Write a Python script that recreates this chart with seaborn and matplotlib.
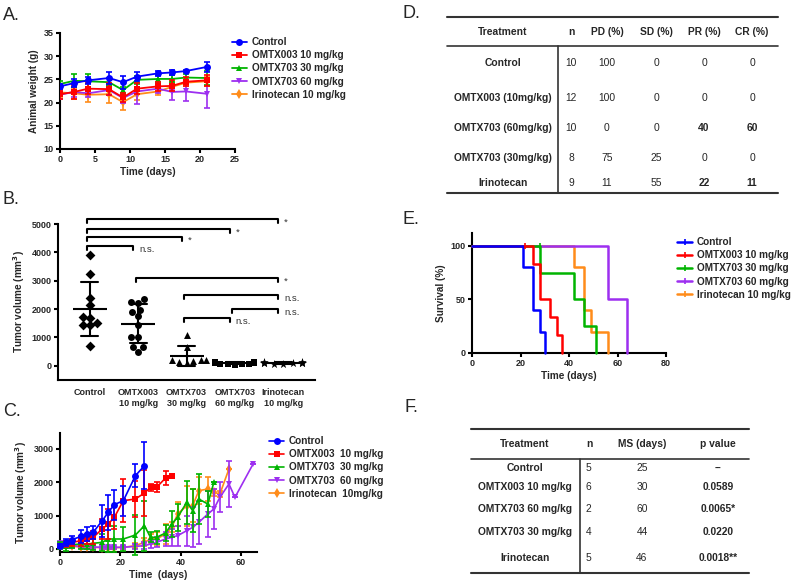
import numpy as np
import pandas as pd
import matplotlib
matplotlib.use('Agg')
import matplotlib.pyplot as plt
from matplotlib.lines import Line2D
import seaborn as sns

sns.set_style('ticks')
plt.rcParams['font.family'] = ['Liberation Sans', 'DejaVu Sans']
plt.rcParams['font.weight'] = 'bold'
plt.rcParams['axes.labelweight'] = 'bold'
plt.rcParams['mathtext.default'] = 'bf'

# ---------------- data ----------------
groups = ['Control', 'OMTX003 10 mg/kg', 'OMTX703 30 mg/kg', 'OMTX703 60 mg/kg', 'Irinotecan 10 mg/kg']
colors = ['#0000ff', '#ff0000', '#00b400', '#9d2ff0', '#ff8c1a']
markers = ['o', 's', '^', 'v', 'd']

# A: body weight
days_a = [0, 2, 4, 7, 9, 11, 14, 16, 18, 21]
weight_ctrl = [23.5, 24.2, 24.8, 25.3, 24.4, 25.6, 26.3, 26.5, 26.8, 27.7]
weight_003 = [21.8, 22.3, 23.0, 22.9, 21.1, 23.0, 23.5, 23.6, 24.5, 24.8]
weight_703_30 = [24.0, 24.7, 24.6, 24.4, 22.7, 24.9, 25.1, 25.1, 25.4, 25.3]
weight_703_60 = [21.7, 22.3, 22.0, 22.7, 21.0, 22.4, 23.0, 22.3, 22.4, 21.9]
weight_iri = [22.2, 22.0, 21.7, 21.8, 20.1, 21.8, 22.4, 23.4, 24.3, 24.6]
werr_ctrl = [0.6, 0.8, 0.8, 1.3, 1.4, 0.9, 0.5, 0.6, 0.2, 1.1]
werr_003 = [1.0, 1.5, 1.2, 1.3, 0.9, 1.2, 1.0, 1.2, 1.0, 1.2]
werr_703_30 = [0.6, 1.4, 1.6, 0.9, 0.6, 0.9, 0.8, 0.8, 0.8, 1.5]
werr_703_60 = [1.0, 1.0, 0.8, 1.0, 1.0, 2.8, 1.0, 1.8, 2.0, 3.0]
werr_iri = [1.2, 1.2, 1.5, 1.8, 1.6, 1.2, 0.8, 1.0, 0.8, 1.0]

# B: final tumour volume per animal
b_groups = ['Control', 'OMTX003\n10 mg/kg', 'OMTX703\n30 mg/kg', 'OMTX703\n60 mg/kg', 'Irinotecan\n10 mg/kg']
b_markers = ['D', 'o', '^', 's', '*']
vol_ctrl = [3920, 3240, 2400, 2150, 1730, 1680, 1500, 1430, 1450, 700]
vol_003 = [2370, 2220, 2250, 1980, 1740, 1880, 1430, 1030, 1030, 650, 480, 650]
vol_703_30 = [1100, 650, 200, 180, 150, 100, 220, 200]
vol_703_60 = [80, 100, 60, 120, 50, 90, 150, 70, 40, 110]
vol_iri = [120, 90, 110, 80, 100, 130, 70, 95, 105]
brk_left = [0, 0, 0, 0, 1, 2, 3, 2]
brk_right = [4, 3, 2, 1, 4, 4, 4, 3]
brk_y = [5180, 4820, 4540, 4230, 3100, 2500, 2000, 1700]
brk_text = ['*', '*', '*', 'n.s.', '*', 'n.s.', 'n.s.', 'n.s.']

# C: tumour growth
c_labels = ['Control', 'OMTX003  10 mg/kg', 'OMTX703  30 mg/kg', 'OMTX703  60 mg/kg', 'Irinotecan  10mg/kg']
days_ctrl = [0, 2, 4, 7, 9, 11, 14, 16, 18, 21, 25, 28]
tv_ctrl = [100, 200, 280, 380, 450, 500, 850, 1100, 1330, 1450, 2200, 2500]
te_ctrl = [60, 100, 120, 200, 220, 200, 480, 520, 450, 450, 350, 700]
days_003 = [0, 2, 4, 7, 9, 11, 14, 16, 18, 21, 25, 28, 30, 32, 35, 37]
tv_003 = [100, 150, 200, 250, 300, 350, 600, 750, 950, 1450, 1500, 1680, 1850, 1850, 2130, 2180]
te_003 = [50, 100, 100, 150, 150, 200, 300, 450, 350, 650, 550, 700, 100, 150, 200, 50]
days_703_30 = [0, 2, 4, 7, 9, 11, 14, 16, 18, 21, 25, 28, 30, 32, 35, 37, 39, 42, 44, 46, 49, 51]
tv_703_30 = [100, 100, 130, 150, 150, 170, 200, 300, 300, 300, 420, 700, 350, 350, 480, 750, 950,
             1400, 1150, 1500, 1350, 2000]
te_703_30 = [100, 150, 100, 150, 150, 200, 250, 400, 400, 350, 600, 750, 150, 200, 250, 400, 400,
             650, 650, 750, 400, 0]
days_703_60 = [0, 2, 4, 7, 9, 11, 14, 16, 18, 21, 25, 28, 30, 32, 35, 37, 39, 42, 44, 46, 49, 51,
               53, 56, 58, 64]
tv_703_60 = [150, 130, 100, 80, 70, 60, 50, 50, 50, 50, 80, 100, 150, 200, 300, 350, 400, 550, 650,
             800, 1050, 1200, 1550, 1950, 1550, 2550]
te_703_60 = [100, 100, 80, 60, 60, 50, 40, 40, 40, 40, 80, 100, 120, 150, 200, 250, 300, 450, 600,
             650, 700, 600, 450, 700, 0, 0]
days_iri = [0, 2, 4, 7, 9, 11, 14, 16, 18, 21, 25, 28, 30, 32, 35, 37, 39, 42, 44, 46, 49, 51, 53, 56]
tv_iri = [120, 100, 80, 60, 50, 50, 40, 40, 40, 50, 100, 200, 300, 300, 450, 650, 1050, 1300, 1300,
          1750, 1800, 1700, 1650, 2400]
te_iri = [60, 50, 40, 30, 30, 30, 30, 30, 30, 40, 80, 120, 150, 200, 300, 150, 350, 600, 500, 400,
          350, 100, 100, 0]

# E: Kaplan-Meier steps (time, % surviving)
km_t_ctrl = [0, 21, 25, 28, 30]
km_s_ctrl = [100, 80, 40, 20, 0]
km_t_003 = [0, 25, 28, 32, 35, 37]
km_s_003 = [100, 83.3, 50, 33.3, 16.7, 0]
km_t_703_30 = [0, 28, 42, 46, 51]
km_s_703_30 = [100, 75, 50, 25, 0]
km_t_703_60 = [0, 56, 64]
km_s_703_60 = [100, 50, 0]
km_t_iri = [0, 42, 46, 49, 56]
km_s_iri = [100, 80, 40, 20, 0]
censor_t = [22, 28]
censor_group = [1, 2]

# D / F tables
d_header = ['Treatment', 'n', 'PD (%)', 'SD (%)', 'PR (%)', 'CR (%)']
d_treat = ['Control', 'OMTX003 (10mg/kg)', 'OMTX703 (60mg/kg)', 'OMTX703 (30mg/kg)', 'Irinotecan']
d_n = [10, 12, 10, 8, 9]
d_pd = [100, 100, 0, 75, 11]
d_sd = [0, 0, 0, 25, 55]
d_pr = [0, 0, 40, 0, 22]
d_cr = [0, 0, 60, 0, 11]
f_header = ['Treatment', 'n', 'MS (days)', 'p value']
f_treat = ['Control', 'OMTX003 10 mg/kg', 'OMTX703 60 mg/kg', 'OMTX703 30 mg/kg', 'Irinotecan']
f_n = [5, 6, 2, 4, 5]
f_ms = [25, 30, 60, 44, 46]
f_p = ['--', '0.0589', '0.0065*', '0.0220', '0.0018**']

# ---------------- figure ----------------
W, H = 800, 580
fig = plt.figure(figsize=(W / 100, H / 100), dpi=100)


def px_axes(x0, y0, x1, y1):
    return fig.add_axes([x0 / W, 1 - y1 / H, (x1 - x0) / W, (y1 - y0) / H])


def style(ax):
    sns.despine(ax=ax)
    for s in ['left', 'bottom']:
        ax.spines[s].set_linewidth(1.5)
        ax.spines[s].set_color('black')
    ax.tick_params(width=1.5, length=3, labelsize=6.5, color='black', pad=1.5)
    for lab in ax.get_xticklabels() + ax.get_yticklabels():
        lab.set_fontweight('bold')


def put_legend(ax, handles, labels, x, y, **kw):
    ax.legend(handles, labels, loc='upper left', bbox_to_anchor=(x / W, 1 - y / H),
              bbox_transform=fig.transFigure, frameon=False, handlelength=1.5, handletextpad=0.5,
              labelspacing=0.32, borderpad=0, borderaxespad=0, prop={'weight': 'bold', 'size': 7.2},
              **kw)


# ---- A ----
axA = px_axes(60, 33, 235, 149)
a_vals = [weight_ctrl, weight_003, weight_703_30, weight_703_60, weight_iri]
a_errs = [werr_ctrl, werr_003, werr_703_30, werr_703_60, werr_iri]
for i in range(4, -1, -1):
    axA.errorbar(days_a, a_vals[i], yerr=a_errs[i], fmt='none', ecolor=colors[i], elinewidth=1.2,
                 capsize=2, capthick=1.2, zorder=2 + 5 - i)
    sns.lineplot(x=days_a, y=a_vals[i], color=colors[i], marker=markers[i], markersize=5,
                 markeredgewidth=0, linewidth=1.3, label=groups[i], ax=axA, zorder=3 + 5 - i)
h, l = axA.get_legend_handles_labels()
axA.set_xlim(0, 25)
axA.set_ylim(10, 35)
axA.set_xticks([0, 5, 10, 15, 20, 25])
axA.set_yticks([10, 15, 20, 25, 30, 35])
axA.set_xlabel('Time (days)', fontsize=7.2, labelpad=2)
axA.set_ylabel('Animal weight (g)', fontsize=7.2, labelpad=3)
style(axA)
put_legend(axA, h[::-1], l[::-1], 232, 37)

# ---- B ----
axB = px_axes(58, 224, 315, 380)
b_vals = [vol_ctrl, vol_003, vol_703_30, vol_703_60, vol_iri]
dfB = pd.DataFrame({'group': np.repeat(b_groups, [len(v) for v in b_vals]),
                    'volume': np.concatenate(b_vals)})
for i, g in enumerate(b_groups):
    sns.swarmplot(data=dfB[dfB['group'] == g], x='group', y='volume', order=b_groups,
                  marker=b_markers[i], color='black', size=5 if b_markers[i] != '*' else 6.5,
                  ax=axB, zorder=3, clip_on=False)
sns.pointplot(data=dfB, x='group', y='volume', order=b_groups, errorbar='sd', color='black',
              linestyle='none', marker='_', markersize=24, markeredgewidth=1.5, capsize=0.35,
              err_kws={'linewidth': 1.5}, ax=axB, zorder=4)
for lft, rgt, yb, txt in zip(brk_left, brk_right, brk_y, brk_text):
    axB.plot([lft - 0.05, lft - 0.05, rgt - 0.1, rgt - 0.1], [yb - 150, yb, yb, yb - 150],
             color='black', linewidth=1.5, clip_on=False)
    axB.text(rgt + 0.02, yb - 120, txt, fontsize=6.8, fontweight='normal', color='#333333',
             ha='left', va='center')
axB.set_xlim(-0.66, 4.66)
axB.set_ylim(-500, 5000)
axB.set_yticks([0, 1000, 2000, 3000, 4000, 5000])
axB.set_xlabel('')
axB.set_ylabel('Tumor volume (mm$^3$)', fontsize=7.2, labelpad=3)
style(axB)
axB.tick_params(axis='x', length=0, pad=6)

# ---- C ----
axC = px_axes(60, 433, 257, 552)
c_days = [days_ctrl, days_003, days_703_30, days_703_60, days_iri]
c_vals = [tv_ctrl, tv_003, tv_703_30, tv_703_60, tv_iri]
c_errs = [te_ctrl, te_003, te_703_30, te_703_60, te_iri]
for i in range(4, -1, -1):
    axC.errorbar(c_days[i], c_vals[i], yerr=c_errs[i], fmt='none', ecolor=colors[i], elinewidth=1.2,
                 capsize=2, capthick=1.2, zorder=2 + 5 - i, clip_on=False)
    sns.lineplot(x=c_days[i], y=c_vals[i], color=colors[i], marker=markers[i], markersize=5,
                 markeredgewidth=0, linewidth=1.2, label=c_labels[i], ax=axC, zorder=3 + 5 - i,
                 clip_on=False)
h, l = axC.get_legend_handles_labels()
axC.set_xlim(0, 65.3)
axC.set_ylim(-90, 3480)
axC.set_xticks([0, 20, 40, 60])
axC.set_yticks([0, 1000, 2000, 3000])
axC.set_xlabel('Time  (days)', fontsize=7.2, labelpad=2)
axC.set_ylabel('Tumor volume (mm$^3$)', fontsize=7.2, labelpad=3)
style(axC)
put_legend(axC, h[::-1], l[::-1], 269, 436, )

# ---- E ----
axE = px_axes(472, 233, 666, 353)
km_t = [km_t_ctrl, km_t_003, km_t_703_30, km_t_703_60, km_t_iri]
km_s = [km_s_ctrl, km_s_003, km_s_703_30, km_s_703_60, km_s_iri]
for i in range(4, -1, -1):
    sns.lineplot(x=km_t[i], y=km_s[i], color=colors[i], drawstyle='steps-post', linewidth=1.8,
                 estimator=None, sort=False, ax=axE, zorder=3 + 5 - i, clip_on=False)
for t, g in zip(censor_t, censor_group):
    axE.plot([t], [100], marker='|', color=colors[g], markersize=4, markeredgewidth=1.2, zorder=9)
axE.set_xlim(0, 80)
axE.set_ylim(0, 112)
axE.set_xticks([0, 20, 40, 60, 80])
axE.set_yticks([0, 50, 100])
axE.set_xlabel('Time (days)', fontsize=7.2, labelpad=2)
axE.set_ylabel('Survival (%)', fontsize=7.2, labelpad=3)
style(axE)
e_handles = [Line2D([], [], color=c, linewidth=1.8, marker='|', markersize=4, markeredgewidth=1.2)
             for c in colors]
put_legend(axE, e_handles, groups, 677, 237, numpoints=1)

# ---- overlay: panel letters and tables ----
ov = fig.add_axes([0, 0, 1, 1], zorder=-1)
ov.set_xlim(0, W)
ov.set_ylim(H, 0)
ov.axis('off')
for letter, x, y in [('A.', 3, 15), ('B.', 3, 200), ('C.', 3, 411), ('D.', 402, 14), ('E.', 402, 220),
                     ('F.', 404, 408)]:
    ov.text(x, y, letter, fontsize=13, fontweight='normal', ha='left', va='center')

tfs = 7.4
# table D
d_cols = [503, 571, 607, 656, 704, 752]
d_rows = [63, 98, 128, 158, 183]
ov.plot([447, 778], [17, 17], color='#333333', lw=1.5)
ov.plot([447, 778], [46, 46], color='#333333', lw=1.2)
ov.plot([447, 778], [193, 193], color='#333333', lw=1.5)
ov.plot([558, 558], [46, 193], color='#333333', lw=1.2)
for x, t in zip(d_cols, d_header):
    ov.text(x, 32, t, fontsize=tfs, fontweight='bold', ha='center', va='center')
for r in range(len(d_treat)):
    y = d_rows[r]
    ov.text(d_cols[0], y, d_treat[r], fontsize=tfs, fontweight='bold', ha='center', va='center')
    cells = [d_n[r], d_pd[r], d_sd[r], d_pr[r], d_cr[r]]
    for c, v in enumerate(cells):
        bold = c >= 3 and v > 0
        ov.text(d_cols[c + 1], y, str(v), fontsize=tfs, fontweight='bold' if bold else 'normal',
                ha='center', va='center')

# table F
f_cols = [525, 586, 642, 718]
f_rows = [468, 487, 509, 532, 558]
ov.plot([471, 749], [429, 429], color='#333333', lw=1.5)
ov.plot([471, 749], [459, 459], color='#333333', lw=1.2)
ov.plot([471, 749], [573, 573], color='#333333', lw=1.5)
ov.plot([580, 580], [459, 573], color='#333333', lw=1.2)
for c, t in enumerate(f_header):
    ov.text(f_cols[c] if c != 1 else 589, 444, t, fontsize=tfs, fontweight='bold', ha='center',
            va='center')
for r in range(len(f_treat)):
    y = f_rows[r]
    ov.text(f_cols[0], y, f_treat[r], fontsize=tfs, fontweight='bold', ha='center', va='center')
    ov.text(f_cols[1], y, str(f_n[r]), fontsize=tfs, fontweight='normal', ha='left', va='center')
    ov.text(f_cols[2], y, str(f_ms[r]), fontsize=tfs, fontweight='normal', ha='center', va='center')
    ov.text(f_cols[3], y, f_p[r], fontsize=tfs, fontweight='bold', ha='center', va='center')

fig.savefig('out.png', dpi=100)
